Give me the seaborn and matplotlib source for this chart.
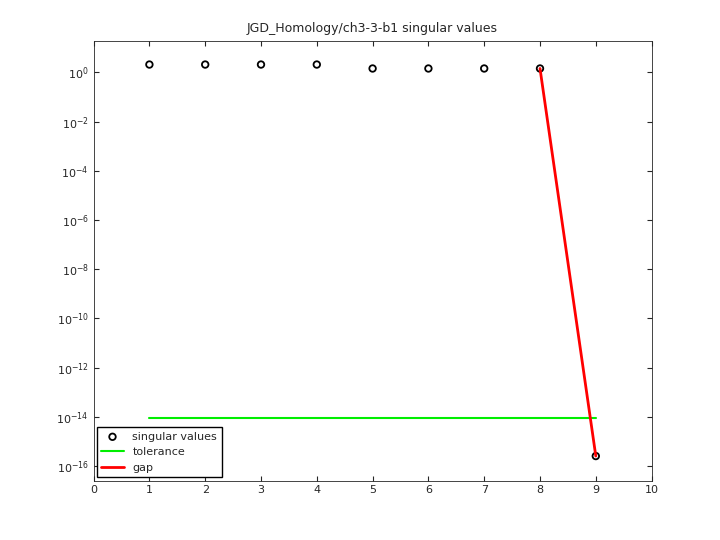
import numpy as np
import pandas as pd
import matplotlib
matplotlib.use('Agg')
import matplotlib.pyplot as plt
import seaborn as sns

idx = [1, 2, 3, 4, 5, 6, 7, 8, 9]
sv = [2.1, 2.1, 2.1, 2.1, 1.45, 1.45, 1.45, 1.45, 2.5e-16]
tol_x = [1, 9]
tol_y = [9e-15, 9e-15]
gap_x = [8, 9]
gap_y = [1.45, 2.5e-16]

sns.set_style('ticks')
plt.rcParams['font.family'] = ['DejaVu Sans']
fig = plt.figure(figsize=(7.2, 5.4), dpi=100)
ax = fig.add_axes([0.13, 0.11, 0.775, 0.815])

df = pd.DataFrame({'i': idx, 'sv': sv})
sns.scatterplot(data=df, x='i', y='sv', ax=ax, marker='o', s=22,
                facecolor='none', edgecolor='black', linewidth=1.3,
                label='singular values')
sns.lineplot(x=tol_x, y=tol_y, ax=ax, color='#00ee00', linewidth=1.5, label='tolerance')
sns.lineplot(x=gap_x, y=gap_y, ax=ax, color='red', linewidth=2, label='gap')

ax.set_yscale('log')
ax.set_xlim(0, 10)
ax.set_ylim(10**-16.6, 10**1.3)
ax.set_xticks(range(11))
ax.set_yticks([10.0**k for k in range(-16, 1, 2)])
ax.minorticks_off()
ax.tick_params(direction='in', labelsize=8, top=True, right=True)
ax.set_xlabel('')
ax.set_ylabel('')
ax.set_title('JGD_Homology/ch3-3-b1 singular values', fontsize=9)
for s in ax.spines.values():
    s.set_linewidth(0.6)
leg = ax.legend(loc='lower left', fontsize=8, fancybox=False, framealpha=1,
                edgecolor='black', borderaxespad=0.3)
fig.savefig('out.png')
